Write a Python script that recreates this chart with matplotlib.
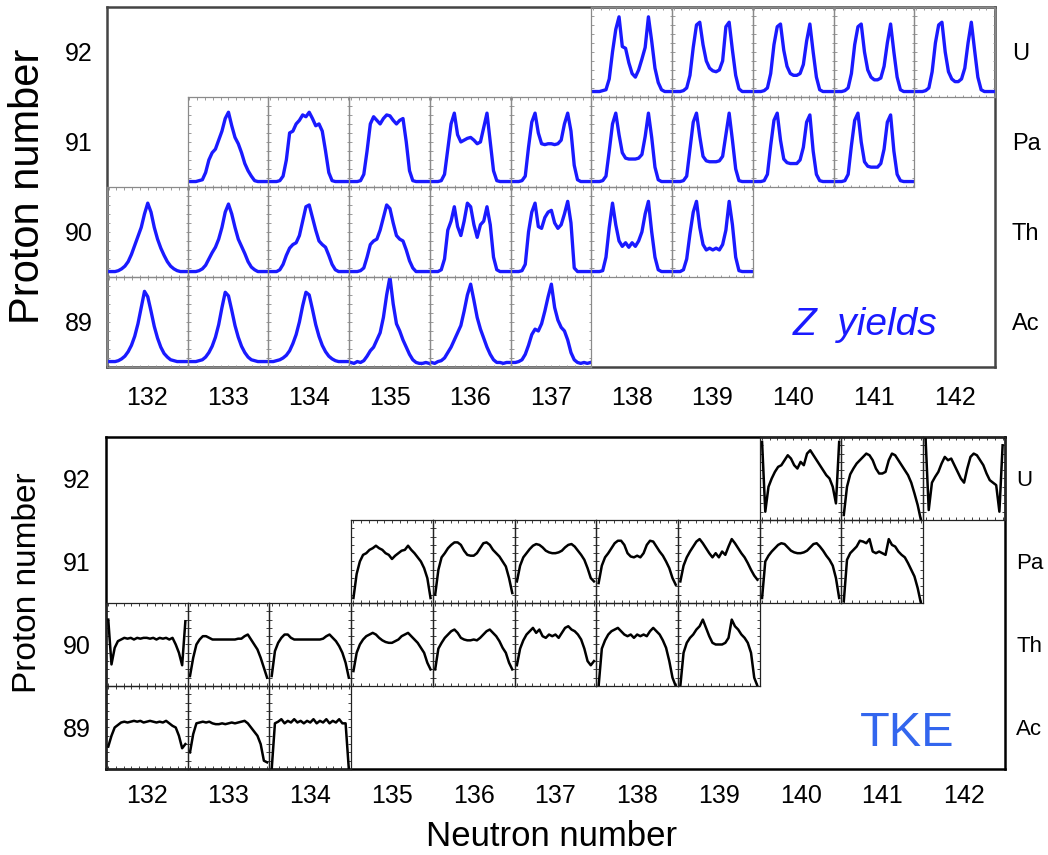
import numpy as np
import matplotlib.pyplot as plt

# axis categories
neutrons = list(range(132, 143))
protons = [89, 90, 91, 92]
elements = ['Ac', 'Th', 'Pa', 'U']

# every curve is sampled at 25 even steps across its cell
npts = 25

# Z yields (upper panel), value 0..1 of the cell height
zy_ac = {
    132: [.06, .06, .06, .07, .09, .12, .17, .24, .34, .48, .66, .84, .78, .62, .45, .32, .22, .15, .11, .08, .07, .06, .06, .06, .06],
    133: [.06, .06, .06, .07, .08, .11, .16, .23, .33, .47, .66, .83, .79, .63, .46, .33, .23, .16, .11, .08, .07, .06, .06, .06, .06],
    134: [.06, .06, .07, .08, .10, .13, .18, .26, .36, .50, .68, .83, .80, .64, .47, .34, .24, .17, .12, .09, .07, .06, .06, .06, .06],
    135: [.05, .04, .06, .05, .07, .12, .18, .22, .30, .38, .55, .80, 1.0, .70, .48, .40, .30, .22, .14, .08, .05, .04, .04, .05, .04],
    136: [.05, .04, .06, .07, .10, .16, .22, .30, .38, .46, .62, .80, .92, .74, .55, .42, .32, .22, .14, .08, .05, .05, .04, .05, .05],
    137: [.05, .05, .06, .08, .14, .24, .36, .42, .40, .48, .62, .78, .92, .66, .52, .44, .40, .30, .16, .08, .05, .04, .05, .04, .05],
}
zy_th = {
    132: [.06, .06, .06, .07, .09, .12, .17, .25, .35, .45, .55, .70, .82, .72, .55, .42, .32, .24, .17, .12, .09, .07, .06, .06, .06],
    133: [.06, .06, .06, .07, .09, .13, .20, .27, .33, .42, .55, .72, .81, .70, .55, .42, .34, .26, .17, .11, .08, .06, .06, .06, .06],
    134: [.06, .06, .06, .08, .14, .24, .32, .36, .38, .46, .62, .78, .80, .66, .52, .40, .36, .33, .24, .14, .08, .06, .06, .06, .06],
    135: [.06, .06, .06, .07, .10, .22, .36, .40, .42, .52, .66, .80, .76, .60, .46, .42, .40, .30, .18, .10, .06, .06, .06, .06, .06],
    136: [.06, .06, .06, .08, .20, .52, .62, .78, .56, .46, .62, .82, .78, .58, .44, .58, .62, .78, .58, .22, .08, .06, .06, .06, .06],
    137: [.06, .06, .06, .07, .14, .50, .72, .82, .56, .54, .66, .72, .74, .60, .54, .58, .70, .84, .60, .10, .06, .06, .06, .06, .06],
    138: [.06, .06, .06, .07, .22, .55, .82, .58, .40, .34, .38, .33, .38, .34, .40, .50, .70, .84, .50, .22, .08, .06, .06, .06, .06],
    139: [.06, .06, .06, .08, .20, .48, .72, .84, .55, .36, .30, .32, .30, .32, .30, .36, .52, .84, .58, .22, .07, .06, .06, .06, .06],
}
zy_pa = {
    133: [.06, .06, .06, .07, .08, .16, .30, .38, .42, .52, .62, .76, .83, .68, .55, .48, .38, .26, .18, .12, .07, .06, .06, .06, .06],
    134: [.06, .06, .06, .07, .12, .30, .60, .62, .70, .74, .80, .78, .83, .76, .68, .70, .62, .40, .16, .07, .06, .06, .06, .06, .06],
    135: [.06, .06, .06, .07, .14, .40, .70, .78, .74, .70, .76, .80, .79, .74, .70, .74, .76, .50, .18, .07, .06, .06, .06, .06, .06],
    136: [.06, .06, .06, .07, .14, .42, .70, .82, .58, .50, .52, .54, .55, .52, .48, .50, .66, .82, .50, .18, .07, .06, .06, .06, .06],
    137: [.06, .06, .06, .07, .12, .44, .72, .82, .60, .48, .47, .48, .48, .47, .48, .52, .70, .82, .62, .24, .08, .06, .06, .06, .06],
    138: [.06, .06, .06, .07, .12, .40, .70, .82, .58, .38, .32, .31, .31, .31, .32, .36, .56, .82, .55, .22, .08, .06, .06, .06, .06],
    139: [.06, .06, .06, .07, .12, .42, .72, .82, .56, .34, .29, .28, .28, .28, .29, .34, .58, .82, .52, .20, .07, .06, .06, .06, .06],
    140: [.06, .06, .06, .07, .14, .46, .74, .82, .52, .31, .27, .26, .26, .26, .30, .44, .72, .80, .40, .14, .07, .06, .06, .06, .06],
    141: [.06, .06, .06, .07, .14, .46, .74, .82, .50, .28, .23, .22, .22, .22, .26, .42, .72, .80, .40, .14, .07, .06, .06, .06, .06],
}
zy_u = {
    138: [.06, .06, .06, .07, .08, .20, .50, .75, .89, .56, .54, .38, .26, .22, .30, .42, .55, .89, .62, .32, .16, .08, .06, .06, .06],
    139: [.06, .06, .06, .07, .10, .24, .55, .80, .83, .58, .40, .32, .29, .28, .30, .40, .78, .83, .52, .24, .09, .06, .06, .06, .06],
    140: [.06, .06, .06, .07, .10, .26, .58, .78, .81, .52, .34, .26, .24, .24, .26, .36, .62, .81, .50, .22, .08, .06, .06, .06, .06],
    141: [.06, .06, .06, .07, .10, .26, .58, .78, .81, .50, .30, .22, .19, .19, .21, .34, .60, .81, .50, .22, .08, .06, .06, .06, .06],
    142: [.06, .06, .06, .07, .10, .28, .60, .80, .83, .50, .28, .20, .17, .17, .20, .32, .60, .83, .52, .22, .08, .06, .06, .06, .06],
}

# TKE (lower panel), value 0..1 of the cell height
tke_ac = {
    132: [.27, .40, .50, .53, .56, .57, .56, .57, .58, .57, .58, .56, .57, .58, .57, .56, .57, .56, .58, .55, .52, .50, .40, .25, .30],
    133: [.20, .42, .55, .56, .57, .56, .57, .55, .54, .54, .55, .54, .55, .56, .55, .56, .57, .58, .55, .50, .45, .40, .30, .10, .08],
    134: [.00, .55, .57, .60, .55, .58, .56, .60, .56, .58, .55, .58, .56, .60, .55, .58, .56, .60, .55, .58, .56, .60, .55, .55, .00],
}
tke_th = {
    132: [.80, .26, .46, .54, .56, .58, .57, .58, .56, .58, .57, .58, .58, .57, .58, .56, .58, .57, .58, .56, .58, .50, .40, .25, .78],
    133: [.12, .34, .50, .56, .60, .60, .58, .56, .56, .56, .56, .56, .56, .56, .56, .57, .57, .60, .62, .56, .50, .44, .34, .22, .10],
    134: [.12, .42, .52, .58, .62, .62, .58, .56, .56, .56, .56, .56, .56, .56, .56, .56, .57, .60, .62, .58, .54, .48, .40, .28, .10],
    135: [.18, .40, .50, .56, .60, .62, .64, .62, .58, .55, .53, .52, .52, .54, .56, .60, .62, .64, .60, .56, .52, .46, .40, .28, .20],
    136: [.20, .45, .52, .58, .62, .66, .68, .64, .58, .56, .55, .55, .56, .55, .58, .62, .66, .68, .64, .60, .54, .46, .40, .28, .20],
    137: [.25, .45, .55, .62, .66, .70, .64, .68, .60, .58, .62, .60, .62, .58, .64, .70, .72, .68, .66, .62, .56, .45, .30, .25, .30],
    138: [.00, .45, .55, .62, .66, .68, .70, .66, .62, .60, .62, .58, .62, .60, .62, .60, .66, .70, .66, .62, .55, .46, .30, .10, .00],
    139: [.00, .40, .52, .58, .62, .68, .72, .80, .70, .60, .52, .50, .50, .50, .52, .58, .80, .72, .68, .62, .58, .52, .40, .10, .00],
}
tke_pa = {
    135: [.06, .35, .50, .58, .60, .64, .66, .69, .66, .64, .60, .58, .53, .57, .60, .63, .64, .69, .64, .60, .55, .50, .42, .30, .06],
    136: [.10, .40, .55, .60, .66, .70, .73, .73, .70, .63, .58, .57, .57, .60, .66, .72, .73, .70, .64, .60, .56, .50, .44, .30, .12],
    137: [.26, .45, .55, .60, .65, .69, .71, .70, .67, .63, .61, .60, .60, .61, .63, .67, .70, .71, .68, .63, .58, .52, .42, .30, .26],
    138: [.24, .45, .55, .60, .66, .72, .75, .75, .70, .60, .56, .55, .57, .55, .60, .70, .75, .74, .68, .62, .57, .50, .42, .30, .22],
    139: [.26, .45, .55, .62, .68, .74, .77, .72, .66, .60, .55, .60, .55, .62, .58, .68, .77, .72, .66, .60, .55, .48, .40, .33, .28],
    140: [.06, .50, .57, .62, .66, .70, .72, .71, .67, .63, .61, .60, .60, .61, .63, .67, .71, .72, .68, .63, .57, .52, .45, .30, .06],
    141: [.02, .52, .60, .64, .68, .75, .74, .72, .77, .62, .60, .62, .60, .58, .77, .70, .68, .62, .58, .55, .48, .40, .32, .18, .00],
}
tke_u = {
    140: [.94, .10, .40, .50, .58, .64, .66, .72, .78, .74, .66, .62, .70, .66, .80, .84, .78, .72, .66, .60, .54, .50, .40, .20, .94],
    141: [.06, .40, .55, .62, .68, .72, .76, .80, .78, .72, .62, .56, .56, .58, .72, .80, .78, .72, .66, .60, .54, .45, .32, .18, .00],
    142: [1.0, .12, .45, .52, .58, .68, .76, .72, .74, .66, .58, .50, .45, .62, .76, .80, .78, .72, .66, .56, .48, .45, .42, .10, .90],
}

zyields = {89: zy_ac, 90: zy_th, 91: zy_pa, 92: zy_u}
tke = {89: tke_ac, 90: tke_th, 91: tke_pa, 92: tke_u}

plt.rcParams['font.family'] = ['Liberation Sans', 'DejaVu Sans']

fig = plt.figure(figsize=(10.48, 8.55), dpi=100)
ax_top = fig.add_axes([0.1021, 0.5708, 0.8473, 0.4211])
ax_bot = fig.add_axes([0.1011, 0.1006, 0.8578, 0.3883])

xs = np.linspace(0, 1, npts)


def setup(ax, frame_col, xpad, ypad, rpad, rsize):
    ax.set_xlim(131.5, 142.5)
    ax.set_ylim(88.5, 92.5)
    ax.set_xticks(neutrons)
    ax.set_yticks(protons)
    ax.tick_params(length=0, labelsize=18)
    ax.tick_params(axis='x', pad=xpad)
    ax.tick_params(axis='y', pad=ypad)
    for s in ax.spines.values():
        s.set_color(frame_col)
        s.set_linewidth(1.8)
        s.set_zorder(5)
    sec = ax.secondary_yaxis('right')
    sec.set_yticks(protons)
    sec.set_yticklabels(elements, fontsize=rsize)
    sec.tick_params(length=0, pad=rpad)
    sec.spines['right'].set_visible(False)


def draw_cells(ax, curves, color, lw, edge, xlim, tick_len):
    for z, row in curves.items():
        for n, vals in row.items():
            cax = ax.inset_axes([n - 0.5, z - 0.5, 1, 1], transform=ax.transData)
            cax.plot(xs, vals, color=color, lw=lw)
            cax.set_xlim(*xlim)
            cax.set_ylim(0, 1)
            cax.set_xticks(np.linspace(0, 1, 11))
            cax.set_yticks(np.linspace(0, 1, 11))
            cax.tick_params(direction='in', length=tick_len, width=0.6, colors=edge,
                            top=True, right=True, labelbottom=False, labelleft=False)
            for s in cax.spines.values():
                s.set_color(edge)
                s.set_linewidth(0.9)
            cax.patch.set_alpha(0)


setup(ax_top, '#444444', 14, 10, 12, 17)
setup(ax_bot, 'black', 11, 11, 8, 16)
draw_cells(ax_top, zyields, '#1a1aff', 2.4, '#8a8a8a', (-0.02, 1.01), 1.8)
draw_cells(ax_bot, tke, 'black', 1.8, '#222222', (-0.03, 1.03), 2.2)

ax_top.text(140.0, 88.97, 'Z  yields', color='#1a1aff', fontsize=28,
            style='italic', ha='left', va='center')
ax_bot.text(140.73, 88.93, 'TKE', color='#3366ee', fontsize=35,
            ha='left', va='center')

fig.text(0.027, 0.782, 'Proton number', rotation=90, fontsize=30,
         ha='center', va='center')
fig.text(0.026, 0.318, 'Proton number', rotation=90, fontsize=24,
         ha='center', va='center')
fig.text(0.526, 0.022, 'Neutron number', fontsize=25, ha='center', va='center')

fig.savefig('out.png', dpi=100)
